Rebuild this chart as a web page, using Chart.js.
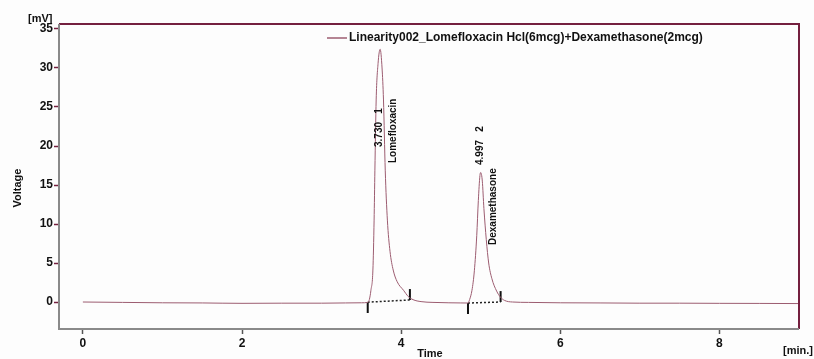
<!DOCTYPE html>
<html>
<head>
<meta charset="utf-8">
<script src="https://cdn.jsdelivr.net/npm/chart.js@4.4.1/dist/chart.umd.min.js"></script>
<style>
  html, body { margin: 0; padding: 0; background: #fdfdfd; }
  #wrap { width: 814px; height: 359px; }
</style>
</head>
<body>
<div id="wrap"><canvas id="chrom"></canvas></div>
<script>
// chromatogram trace (time in min, voltage in mV)
const seriesName = 'Linearity002_Lomefloxacin Hcl(6mcg)+Dexamethasone(2mcg)';
const times = [0, 0.5, 1, 1.5, 2, 2.5, 3, 3.3, 3.5, 3.58, 3.6, 3.62, 3.645, 3.66, 3.67, 3.686, 3.71, 3.736, 3.76, 3.778, 3.80, 3.827, 3.86, 3.9, 3.95, 4.03, 4.09, 4.15, 4.25, 4.4, 4.6, 4.75, 4.84, 4.86, 4.89, 4.92, 4.95, 4.97, 4.99, 5.0, 5.02, 5.04, 5.07, 5.1, 5.14, 5.2, 5.25, 5.3, 5.4, 5.6, 6, 6.5, 7, 7.5, 8, 8.5, 9];
const volts = [0, -0.05, -0.1, -0.12, -0.17, -0.15, -0.15, -0.12, -0.1, -0.05, 0.3, 1.5, 4.1, 10.5, 16.9, 25.9, 30.6, 32.4, 30, 25.9, 16.9, 10.5, 6.5, 4.1, 2.6, 1.5, 0.7, 0.3, 0.05, -0.05, -0.1, -0.12, -0.13, 0.3, 1.5, 4, 8.5, 13, 16.2, 16.6, 15.5, 12, 8, 5, 3, 1.4, 0.6, 0.2, 0, -0.05, -0.1, -0.12, -0.15, -0.15, -0.17, -0.18, -0.2];

// integration baseline start / end points [time, mV]
const intStart = [[3.58, -0.02], [4.84, -0.13]];
const intEnd = [[4.11, 0.26], [5.25, 0.0]];

// peak labels
const peakTimes = [3.730, 4.997];
const peakNums = ['1', '2'];
const peakNames = ['Lomefloxacin', 'Dexamethasone'];

const xTicks = [0, 2, 4, 6, 8];
const yTicks = [0, 5, 10, 15, 20, 25, 30, 35];

const trace = times.map((t, i) => ({ x: t, y: volts[i] }));

let datasets = [{
    label: seriesName,
    data: trace,
    borderColor: '#9c5c70',
    borderWidth: 1,
    pointRadius: 0,
    showLine: true,
    cubicInterpolationMode: 'monotone'
}];

// dotted baselines and the little integration marks
intStart.forEach((s, i) => {
    const e = intEnd[i];
    datasets.push({
        data: [{ x: s[0], y: s[1] }, { x: e[0], y: e[1] }],
        borderColor: '#222', borderWidth: 1.5, borderDash: [2, 2],
        pointRadius: 0, showLine: true
    });
    datasets.push({
        data: [{ x: s[0], y: s[1] }, { x: s[0], y: s[1] - 1.4 }],
        borderColor: '#111', borderWidth: 2, pointRadius: 0, showLine: true
    });
    datasets.push({
        data: [{ x: e[0], y: e[1] }, { x: e[0], y: e[1] + 1.4 }],
        borderColor: '#111', borderWidth: 2, pointRadius: 0, showLine: true
    });
});

// frame, titles, legend and peak annotations
const decor = {
    id: 'decor',
    afterDraw(chart) {
        const c = chart.ctx;
        const a = chart.chartArea;
        const xs = chart.scales.x;
        c.save();
        // frame
        c.lineWidth = 2;
        c.strokeStyle = '#74203f';
        c.beginPath();
        c.moveTo(a.left, a.top); c.lineTo(a.right, a.top); c.lineTo(a.right, a.bottom);
        c.stroke();
        c.strokeStyle = '#8a8a8a';
        c.beginPath();
        c.moveTo(a.left, a.top); c.lineTo(a.left, a.bottom); c.lineTo(a.right, a.bottom);
        c.stroke();

        c.fillStyle = '#111';
        c.font = 'bold 11px "Liberation Sans", Arial, sans-serif';
        c.textBaseline = 'middle';
        c.textAlign = 'left';
        c.fillText('[mV]', 28, 19);
        c.fillText('[min.]', 783, 351);
        c.textAlign = 'center';
        c.fillText('Time', 430, 354);
        c.save();
        c.translate(18, 188);
        c.rotate(-Math.PI / 2);
        c.fillText('Voltage', 0, 0);
        c.restore();

        // legend
        c.strokeStyle = '#9c5c70';
        c.lineWidth = 1.5;
        c.beginPath(); c.moveTo(327, 38); c.lineTo(347, 38); c.stroke();
        c.textAlign = 'left';
        c.font = 'bold 12px "Liberation Sans", Arial, sans-serif';
        c.fillText(seriesName, 349, 38);

        // peak annotations (rotated)
        c.font = 'bold 10px "Liberation Sans", Arial, sans-serif';
        const numBottom = [147, 165];
        const nameBottom = [163, 245];
        const nameShift = [14, 13];
        peakTimes.forEach((rt, i) => {
            const px = xs.getPixelForValue(rt);
            c.save();
            c.translate(px, numBottom[i]);
            c.rotate(-Math.PI / 2);
            c.fillText(rt.toFixed(3) + '   ' + peakNums[i], 0, 0);
            c.restore();
            c.save();
            c.translate(px + nameShift[i], nameBottom[i]);
            c.rotate(-Math.PI / 2);
            c.fillText(peakNames[i], 0, 0);
            c.restore();
        });
        c.restore();
    }
};

new Chart(document.getElementById('chrom'), {
    type: 'scatter',
    data: { datasets: datasets },
    plugins: [decor],
    options: {
        responsive: true,
        maintainAspectRatio: false,
        animation: false,
        layout: { padding: { top: 24, right: 15, left: 0, bottom: 0 } },
        plugins: { legend: { display: false }, tooltip: { enabled: false } },
        scales: {
            x: {
                type: 'linear', min: -0.3, max: 9.0,
                afterBuildTicks: (s) => { s.ticks = xTicks.map(v => ({ value: v })); },
                afterFit: (s) => { s.height = 30; },
                border: { display: false },
                grid: { drawOnChartArea: false, color: '#555', tickLength: 5, tickWidth: 1.5 },
                ticks: {
                    autoSkip: false, maxRotation: 0, padding: 2, color: '#111',
                    font: { family: '"Liberation Sans", Arial, sans-serif', size: 12, weight: 'bold' }
                }
            },
            y: {
                type: 'linear', min: -3.46, max: 35.64,
                afterBuildTicks: (s) => { s.ticks = yTicks.map(v => ({ value: v })); },
                afterFit: (s) => { s.width = 59; },
                border: { display: false },
                grid: { drawOnChartArea: false, color: '#74203f', tickLength: 5, tickWidth: 1.5 },
                ticks: {
                    padding: 1, color: '#111',
                    font: { family: '"Liberation Sans", Arial, sans-serif', size: 12, weight: 'bold' }
                }
            }
        }
    }
});
</script>
</body>
</html>
